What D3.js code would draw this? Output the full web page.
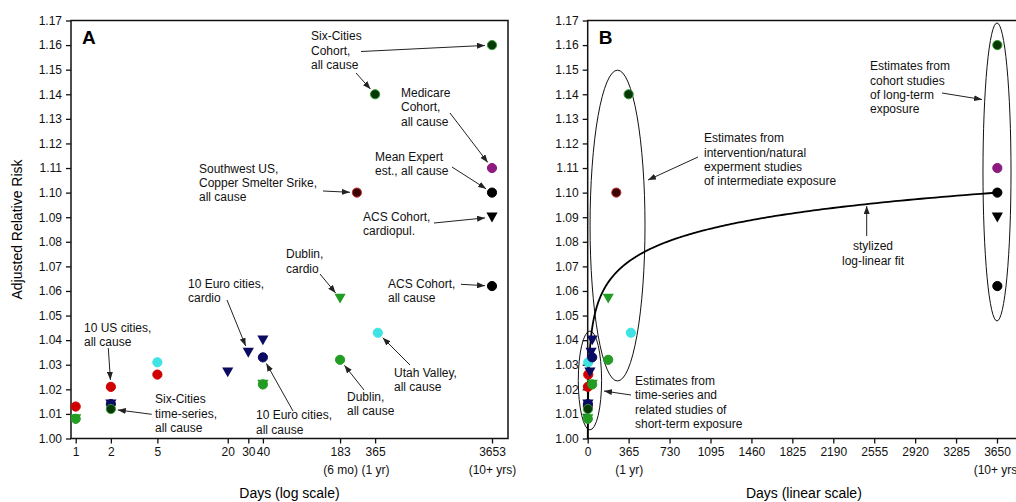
<!DOCTYPE html>
<html><head><meta charset="utf-8">
<script src="https://cdn.jsdelivr.net/npm/d3@7"></script>
<style>
body{margin:0;background:#fff;}
svg{display:block;font-family:"Liberation Sans",Arial,Helvetica,sans-serif;}
</style></head>
<body><svg id="c" width="1016" height="502"></svg>
<script>
// ---------------- data ----------------
const yTicks = [1.00,1.01,1.02,1.03,1.04,1.05,1.06,1.07,1.08,1.09,1.10,1.11,1.12,1.13,1.14,1.15,1.16,1.17];
const xTicksA = [1,2,5,20,30,40,183,365,3653];
const xSubA = {183:"(6 mo)",365:"(1 yr)",3653:"(10+ yrs)"};
const xTicksB = [0,365,730,1095,1460,1825,2190,2555,2920,3285,3650];
const xSubB = {365:"(1 yr)",3650:"(10+ yrs)"};

// study estimates (days of exposure, adjusted relative risk, marker group)
const studyDays  = [1,    2,    5,    5,    20,   30,   40,   2,    2,    40,   1,    40,   183,  1,    40,   183,  385,  2,    365,  3653, 255,  3653, 3653, 3653, 3653];
const studyRR    = [1.013,1.021,1.026,1.031,1.027,1.035,1.040,1.014,1.014,1.033,1.008,1.022,1.057,1.008,1.022,1.032,1.043,1.012,1.140,1.160,1.100,1.110,1.100,1.062,1.090];
const studyGroup = ["red","red","red","cyan","navyTri","navyTri","navyTri","navyTri","navy","navy","greenTri","greenTri","greenTri","green","green","green","cyan","darkGreen","darkGreen","darkGreen","darkRed","purple","black","black","blackTri"];

// stylized log-linear fit anchors [days, RR]
const fitStart = [1, 1.00];
const fitEnd = [3650, 1.10];

// ellipses in panel B: [centre days, centre RR, radius days, radius RR]
const ellipseShort = [20, 1.0236, 104, 0.0201];
const ellipseMid = [266, 1.0866, 245, 0.0632];
const ellipseLong = [3650, 1.1084, 125, 0.0606];

// ---------------- styles ----------------
const groupStyle = {
  red:{fill:"#d10000",stroke:"#d10000",tri:false},
  cyan:{fill:"#3fe3e3",stroke:"#3fe3e3",tri:false},
  navy:{fill:"#0b0b62",stroke:"#0b0b62",tri:false},
  navyTri:{fill:"#0b0b62",stroke:"#0b0b62",tri:true},
  green:{fill:"#229c22",stroke:"#229c22",tri:false},
  greenTri:{fill:"#229c22",stroke:"#229c22",tri:true},
  darkGreen:{fill:"#083808",stroke:"#2f9a2f",tri:false},
  darkRed:{fill:"#380404",stroke:"#c43030",tri:false},
  purple:{fill:"#8d1a80",stroke:"#8d1a80",tri:false},
  black:{fill:"#000",stroke:"#000",tri:false},
  blackTri:{fill:"#000",stroke:"#000",tri:true}
};
const FONT = 12;

const svg = d3.select("#c");
svg.append("rect").attr("width",1016).attr("height",502).attr("fill","#fff");
const defs = svg.append("defs");
defs.append("marker").attr("id","ah").attr("viewBox","0 0 8 6").attr("refX",8).attr("refY",3)
  .attr("markerWidth",8).attr("markerHeight",6).attr("markerUnits","userSpaceOnUse").attr("orient","auto")
  .append("path").attr("d","M0,0L8,3L0,6Z").attr("fill","#222");

const plotTop = 20.5, plotBottom = 438.5;
const y = d3.scaleLinear().domain([1.00,1.17]).range([plotBottom, plotTop]);
const xA = d3.scaleLog().domain([1,3653]).range([75.7,492]);
const xB = d3.scaleLinear().domain([0,3650]).range([587.7,997]);
const panels = [{x:xA,left:71,right:508,ticks:xTicksA,sub:xSubA,letter:"A",title:"Days (log scale)"},
                {x:xB,left:587.7,right:1020,ticks:xTicksB,sub:xSubB,letter:"B",title:"Days (linear scale)"}];

function triPath(cx,cy){return `M${cx-5.6},${cy-4.6}L${cx+5.6},${cy-4.6}L${cx},${cy+5.2}Z`;}

panels.forEach(p=>{
  const g = svg.append("g");
  const ya = g.append("g").attr("transform",`translate(${p.left},0)`)
    .call(d3.axisLeft(y).tickValues(yTicks).tickFormat(d3.format(".2f")).tickSize(5).tickPadding(4).tickSizeOuter(0));
  ya.select(".domain").remove();
  ya.selectAll("text").attr("font-size",FONT).attr("font-family","Liberation Sans, Arial, sans-serif").attr("fill","#111");
  ya.selectAll("line").attr("stroke","#111").attr("stroke-width",1.3);
  const xa = g.append("g").attr("transform",`translate(0,${plotBottom})`)
    .call(d3.axisBottom(p.x).tickValues(p.ticks).tickFormat(d=>String(d)).tickSize(5).tickPadding(4).tickSizeOuter(0));
  xa.select(".domain").remove();
  xa.selectAll("text").attr("font-size",FONT).attr("font-family","Liberation Sans, Arial, sans-serif").attr("fill","#111");
  xa.selectAll("line").attr("stroke","#111").attr("stroke-width",1.3);
  xa.selectAll(".tick").filter(d=>p.sub[d]).append("text")
    .attr("y",27).attr("dy","0.71em").attr("text-anchor","middle").attr("font-size",FONT).attr("fill","#111")
    .text(d=>p.sub[d]);
  g.append("rect").attr("x",p.left).attr("y",plotTop).attr("width",p.right-p.left).attr("height",plotBottom-plotTop)
    .attr("fill","none").attr("stroke","#111").attr("stroke-width",1.5);
  g.append("text").attr("x",p.left+11).attr("y",plotTop+23).attr("font-size",19).attr("font-weight","bold").text(p.letter);
  g.append("text").attr("x",(p.left+p.right)/2).attr("y",498).attr("text-anchor","middle").attr("font-size",14).text(p.title);
  p.g = g;
});
svg.append("text").attr("transform",`translate(22,${(plotTop+plotBottom)/2}) rotate(-90)`).attr("text-anchor","middle")
  .attr("font-size",14).text("Adjusted Relative Risk");

// ---------- panel B extras (drawn under points) ----------
const gB = panels[1].g;
[ellipseShort,ellipseMid,ellipseLong].forEach(e=>{
  const cx = xB(e[0]), cy = y(e[1]);
  const rx = xB(e[0]+e[2]) - cx, ry = cy - y(e[1]+e[3]);
  gB.append("ellipse").attr("cx",cx).attr("cy",cy).attr("rx",rx).attr("ry",ry)
    .attr("fill","none").attr("stroke","#111").attr("stroke-width",1);
});
const slope = (fitEnd[1]-fitStart[1]) / Math.log(fitEnd[0]/fitStart[0]);
const fit = d => fitStart[1] + slope*Math.log(d/fitStart[0]);
const fitDays = d3.range(0,401).map(i=>fitStart[0]*Math.pow(fitEnd[0]/fitStart[0], i/400));
gB.append("path").datum(fitDays)
  .attr("d",d3.line().x(d=>xB(d)).y(d=>y(fit(d))))
  .attr("fill","none").attr("stroke","#000").attr("stroke-width",1.8);

// ---------- points ----------
const pts = studyDays.map((d,i)=>({d,rr:studyRR[i],g:studyGroup[i]}));
panels.forEach(p=>{
  const pg = p.g.append("g");
  pts.forEach(pt=>{
    const s = groupStyle[pt.g], cx = p.x(pt.d), cy = y(pt.rr);
    if(s.tri) pg.append("path").attr("d",triPath(cx,cy)).attr("fill",s.fill);
    else pg.append("circle").attr("cx",cx).attr("cy",cy).attr("r",4.6).attr("fill",s.fill)
      .attr("stroke",s.stroke).attr("stroke-width",1);
  });
});

// ---------- annotations ----------
function label(g,x,ys,lines,anchor){
  lines.forEach((t,i)=>g.append("text").attr("x",x).attr("y",ys+i*14.4).attr("dy","0.35em")
    .attr("text-anchor",anchor||"start").attr("font-size",FONT).attr("fill","#111").text(t));
}
function arrow(g,x1,y1,x2,y2){
  g.append("line").attr("x1",x1).attr("y1",y1).attr("x2",x2).attr("y2",y2)
    .attr("stroke","#222").attr("stroke-width",1).attr("marker-end","url(#ah)");
}
function arrowTo(g,x1,y1,day,rr,gap){
  const tx = xA(day), ty = y(rr), dx = tx-x1, dy = ty-y1, L = Math.hypot(dx,dy), k=(gap||7)/L;
  arrow(g,x1,y1,tx-dx*k,ty-dy*k);
}
const gA = panels[0].g;
label(gA,311,36,["Six-Cities","Cohort,","all cause"]);
arrowTo(gA,361,51.5,3653,1.16); arrowTo(gA,356,73,365,1.14);
label(gA,401,92.7,["Medicare","Cohort,","all cause"]);
arrowTo(gA,450,113,3653,1.11);
label(gA,375,156.7,["Mean Expert","est., all cause"]);
arrowTo(gA,452,167,3653,1.10);
label(gA,363,216.7,["ACS Cohort,","cardiopul."]);
arrowTo(gA,434,223,3653,1.09);
label(gA,199,168.3,["Southwest US,","Copper Smelter Srike,","all cause"]);
arrowTo(gA,323,191,255,1.10);
label(gA,286,254,["Dublin,","cardio"]);
arrowTo(gA,320,274,183,1.057);
label(gA,388,283.3,["ACS Cohort,","all cause"]);
arrowTo(gA,461,284.3,3653,1.062);
label(gA,394,372.7,["Utah Valley,","all cause"]);
arrowTo(gA,410,365,385,1.043);
label(gA,347,396.7,["Dublin,","all cause"]);
arrowTo(gA,364,390,183,1.032);
label(gA,256,415,["10 Euro cities,","all cause"]);
arrowTo(gA,293,411,40,1.033);
label(gA,188,283.3,["10 Euro cities,","cardio"]);
arrowTo(gA,227,300,30,1.035);
label(gA,84,327.3,["10 US cities,","all cause"]);
arrowTo(gA,108.3,348,2,1.021);
label(gA,155,399,["Six-Cities","time-series,","all cause"]);
arrowTo(gA,151.7,414.3,2,1.012);

label(gB,704,138,["Estimates from","intervention/natural","experment studies","of intermediate exposure"]);
arrow(gB,698,157,648,180);
label(gB,870,66,["Estimates from","cohort studies","of long-term","exposure"]);
arrow(gB,942,93,982,99.5);
label(gB,873,246,["stylized","log-linear fit"],"middle");
{const ax = 866.7; arrow(gB,ax,236,ax,y(fit(xB.invert(ax)))+2);}
label(gB,635,380.7,["Estimates from","time-series and","related studies of","short-term exposure"]);
arrow(gB,631,395,604,391);
</script></body></html>
